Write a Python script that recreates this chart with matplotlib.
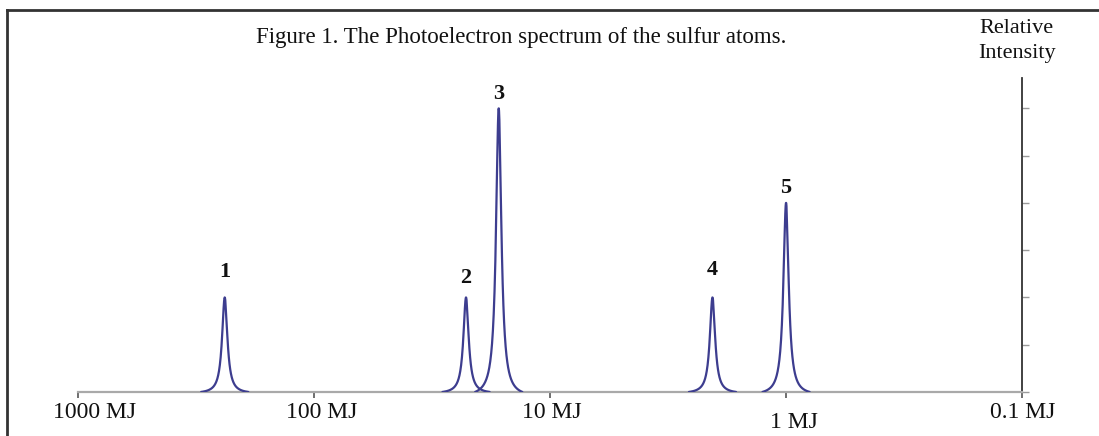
import numpy as np
import matplotlib
matplotlib.use("Agg")
import matplotlib.pyplot as plt
from matplotlib.lines import Line2D
from matplotlib.transforms import offset_copy

# Dados do espectro (energia de ionização em MJ, intensidade relativa)
picos_energia = [239.0, 22.7, 16.5, 2.05, 1.00]
picos_altura = [2, 2, 6, 2, 4]
picos_rotulo = ["1", "2", "3", "4", "5"]
rotulo_altura = [2.54, 2.41, 6.30, 2.58, 4.31]

ticks_x = [1000, 100, 10, 1, 0.1]
ticks_x_rotulos = ["1000 MJ", "100 MJ", "10 MJ", "1 MJ", "0.1 MJ"]
ticks_y = [0, 1, 2, 3, 4, 5, 6]

plt.rcParams['font.family'] = ['Liberation Serif', 'DejaVu Serif']

fig = plt.figure(figsize=(10.99, 4.36), dpi=100)
ax = fig.add_axes([0.071, 0.101, 0.859, 0.720])
ax.set_xscale('log')
ax.set_xlim(1000, 0.1)
ax.set_ylim(0, 6.64)

# Picos lorentzianos em escala log
largura = 0.0135
janela = 0.10
cor_linha = '#3d3d8f'
for e, h in zip(picos_energia, picos_altura):
    c = np.log10(e)
    u = np.linspace(c - janela, c + janela, 400)
    y = 1.0 / (1.0 + ((u - c) / largura) ** 2)
    y0 = 1.0 / (1.0 + (janela / largura) ** 2)
    y = h * (y - y0) / (1 - y0)
    ax.plot(10 ** u, y, color=cor_linha, lw=1.6, solid_capstyle='round', zorder=3)

for e, yl, r in zip(picos_energia, rotulo_altura, picos_rotulo):
    ax.text(e, yl, r, ha='center', va='center', fontsize=16, fontweight='bold',
            color='#111111')

# Eixos
for lado in ['top', 'left']:
    ax.spines[lado].set_visible(False)
ax.spines['bottom'].set_color('#a9a9a9')
ax.spines['bottom'].set_linewidth(1.6)
ax.spines['right'].set_color('#333333')
ax.spines['right'].set_linewidth(1.3)

ax.set_xticks(ticks_x)
ax.set_xticklabels([''] * len(ticks_x))
ax.xaxis.set_minor_locator(matplotlib.ticker.NullLocator())
ax.tick_params(axis='x', direction='out', length=4, width=1.2, color='#555555')

ax.yaxis.tick_right()
ax.set_yticks(ticks_y)
ax.set_yticklabels([])
ax.tick_params(axis='y', direction='out', length=5, width=1.0, color='#9a9a9a')

# Rótulos do eixo x (deslocamentos como no original)
desloc = [(17, -21), (8, -21), (2, -21), (8, -31), (1, -21)]
for xv, txt, (dx, dy) in zip(ticks_x, ticks_x_rotulos, desloc):
    tr = offset_copy(ax.get_xaxis_transform(), fig=fig, x=dx * 0.72, y=dy * 0.72,
                     units='points')
    ax.text(xv, 0, txt, transform=tr, ha='center', va='center', fontsize=17,
            color='#111111')

fig.text(0.474, 0.915, "Figure 1. The Photoelectron spectrum of the sulfur atoms.",
         ha='center', va='center', fontsize=16.5, color='#111111')
fig.text(0.925, 0.906, "Relative\nIntensity", ha='center', va='center',
         fontsize=16, color='#111111', linespacing=1.4)

# Moldura
fig.add_artist(Line2D([0.0064, 1.0], [0.977, 0.977], transform=fig.transFigure,
                      color='#333333', lw=2))
fig.add_artist(Line2D([0.0064, 0.0064], [0.0, 0.977], transform=fig.transFigure,
                      color='#333333', lw=2))

fig.savefig('out.png', dpi=100, facecolor='white')
